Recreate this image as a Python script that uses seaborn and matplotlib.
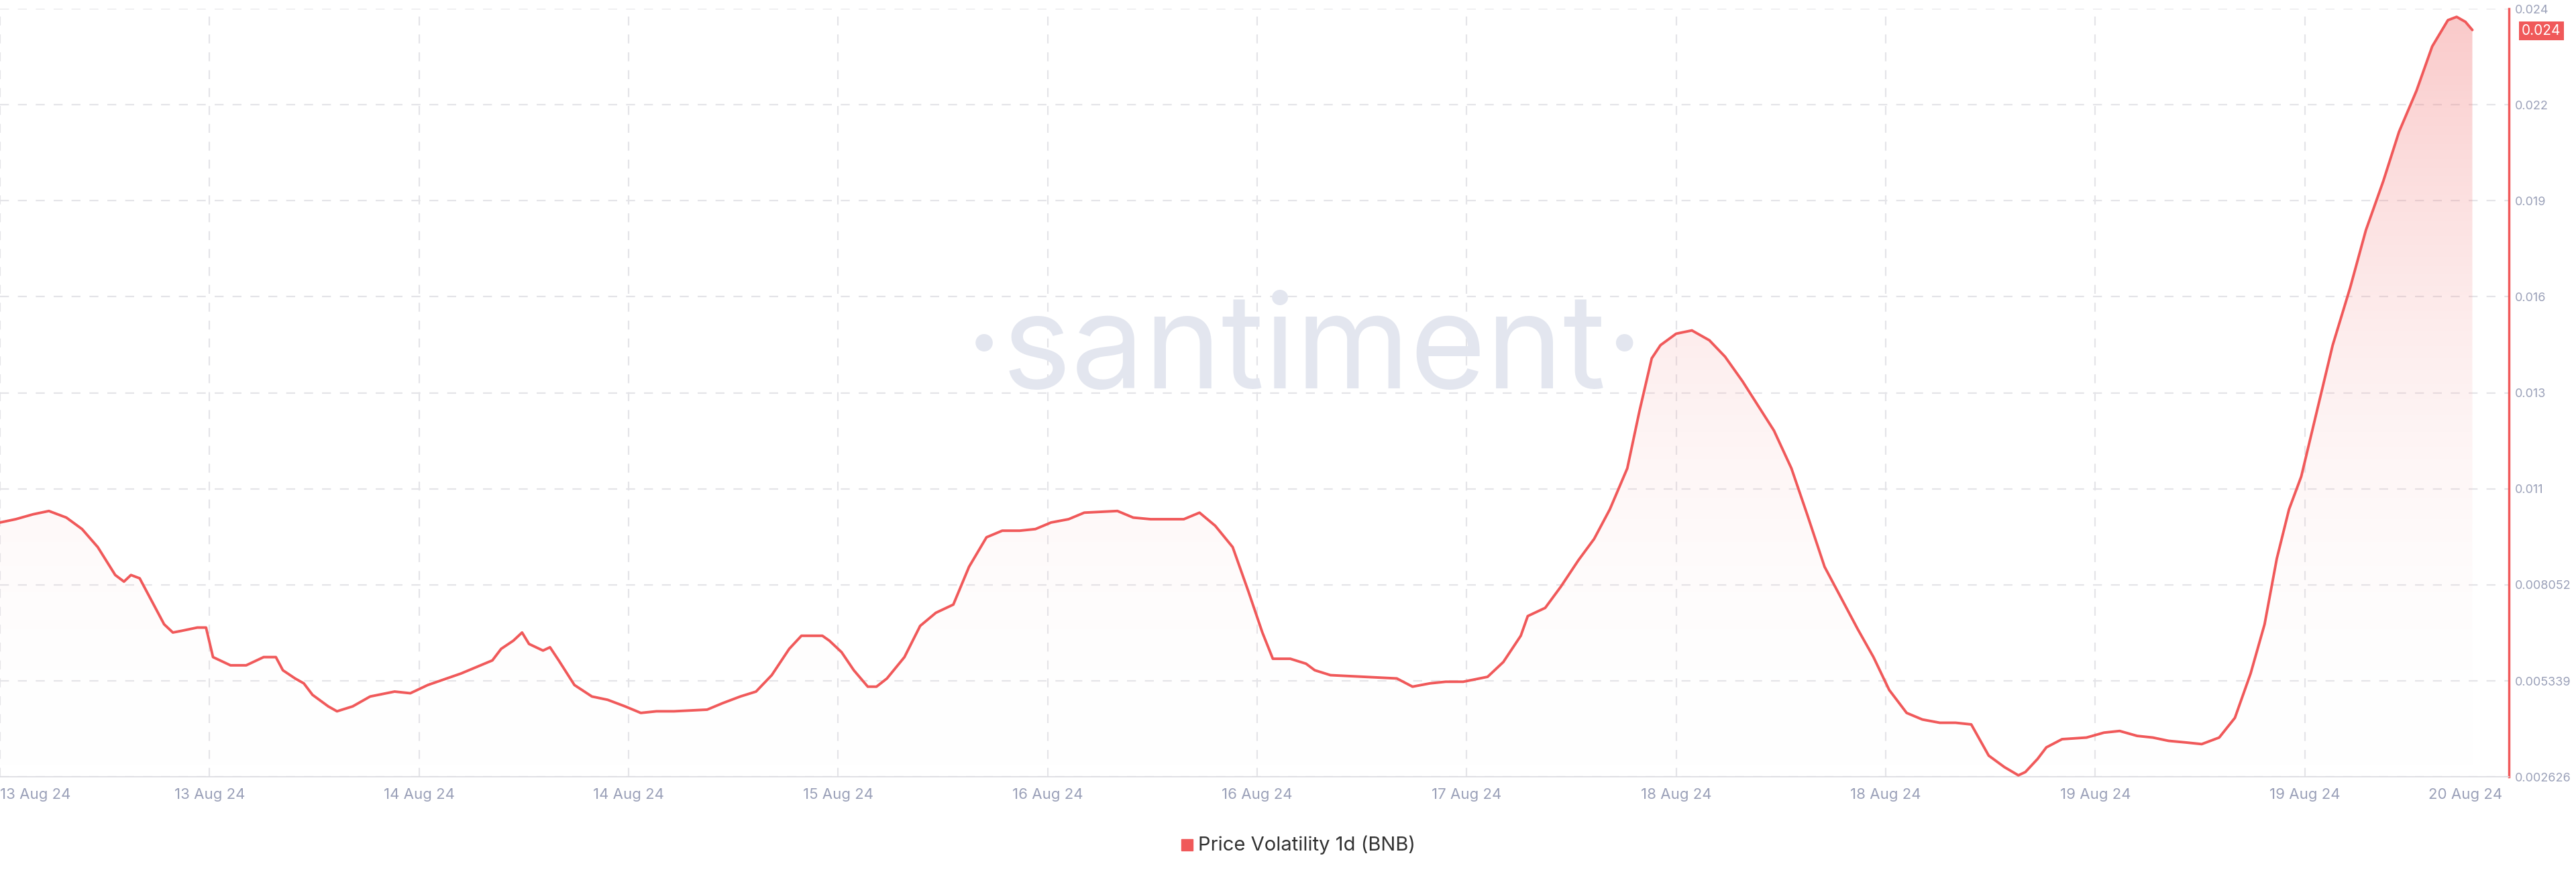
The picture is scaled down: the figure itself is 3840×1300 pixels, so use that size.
import numpy as np
import pandas as pd
import matplotlib
matplotlib.use("Agg")
import matplotlib.pyplot as plt
import seaborn as sns
from matplotlib.patches import Rectangle

hours = [0,0.9,1.9,2.8,3.8,4.7,5.6,6.6,7.1,7.5,8.0,8.5,9.4,9.9,10.4,11.3,11.8,12.2,13.2,14.1,15.1,15.8,16.2,16.9,17.4,17.9,18.8,19.3,20.2,21.2,22.6,23.5,24.5,26.4,28.2,28.7,29.4,29.9,30.3,31.1,31.5,32.0,32.9,33.9,34.8,35.8,36.7,37.6,38.6,40.5,41.4,42.4,43.3,44.2,45.2,45.9,47.1,47.5,48.2,48.9,49.7,50.2,50.8,51.8,52.7,53.6,54.6,55.5,56.5,57.4,58.4,59.3,60.2,61.2,62.1,64.0,64.9,65.9,66.8,67.8,68.7,69.6,70.6,71.5,72.3,72.9,73.9,74.8,75.3,76.2,78.1,80.0,80.9,81.9,82.8,83.8,85.2,86.1,87.1,87.5,88.5,89.4,90.4,91.3,92.2,93.2,93.9,94.6,95.1,96.0,96.9,97.9,98.8,99.8,100.7,101.6,102.6,103.5,104.5,105.4,106.4,107.3,108.2,109.2,110.1,111.1,112.0,112.9,113.9,114.8,115.6,116.0,116.7,117.2,118.1,119.5,120.5,121.4,122.4,123.3,124.2,125.2,126.1,127.1,128.0,128.9,129.7,130.4,131.1,131.8,132.7,133.6,134.6,135.5,136.5,137.4,138.4,139.3,140.2,140.7,141.2,141.6]
vol_milli = [9.815,9.908,10.047,10.140,9.954,9.629,9.119,8.331,8.145,8.331,8.238,7.774,6.939,6.707,6.754,6.847,6.847,6.012,5.780,5.780,6.012,6.012,5.641,5.409,5.270,4.945,4.620,4.481,4.620,4.899,5.038,4.991,5.223,5.548,5.919,6.244,6.476,6.707,6.383,6.197,6.290,5.919,5.223,4.899,4.806,4.620,4.435,4.481,4.481,4.528,4.713,4.899,5.038,5.502,6.244,6.615,6.615,6.476,6.151,5.641,5.177,5.177,5.409,6.012,6.893,7.264,7.496,8.563,9.397,9.583,9.583,9.629,9.815,9.908,10.093,10.140,9.954,9.908,9.908,9.908,10.093,9.722,9.119,7.867,6.707,5.965,5.965,5.826,5.641,5.502,5.455,5.409,5.177,5.270,5.316,5.316,5.455,5.873,6.615,7.171,7.403,8.006,8.748,9.351,10.186,11.345,12.969,14.453,14.824,15.149,15.241,14.963,14.499,13.804,13.108,12.412,11.345,10.047,8.563,7.728,6.800,6.012,5.084,4.435,4.249,4.157,4.157,4.110,3.229,2.904,2.672,2.765,3.136,3.461,3.693,3.739,3.878,3.925,3.786,3.739,3.646,3.600,3.554,3.739,4.296,5.548,6.939,8.795,10.186,11.114,12.969,14.824,16.447,18.070,19.462,20.853,22.013,23.265,24.007,24.100,23.961,23.729]
tick_hours = [0,12,24,36,48,60,72,84,96,108,120,132,141.2]
tick_labels = ["13 Aug 24","13 Aug 24","14 Aug 24","14 Aug 24","15 Aug 24","16 Aug 24","16 Aug 24","17 Aug 24","18 Aug 24","18 Aug 24","19 Aug 24","19 Aug 24","20 Aug 24"]
y_ticks = [0.002626,0.005339,0.008052,0.010765,0.013478,0.016191,0.018904,0.021617,0.02433]
y_labels = ["0.002626","0.005339","0.008052","0.011","0.013","0.016","0.019","0.022","0.024"]

df = pd.DataFrame({"h": hours, "v": np.array(vol_milli) / 1000})

sns.set_theme(style="white")
plt.rcParams['font.family'] = ['Inter', 'DejaVu Sans']
RED = "#f0595a"
GRAY = "#9aa0b8"

fig = plt.figure(figsize=(38.4, 13), dpi=100)
ax = fig.add_axes([0.0, 0.109, 0.974, 0.881])
ymin, ymax = 0.002626, 0.02433
xmax = 143.7
ax.set_xlim(0, xmax)
ax.set_ylim(ymin, ymax)

grad = np.linspace(0, 1, 256).reshape(-1, 1)
cmap = matplotlib.colors.LinearSegmentedColormap.from_list(
    "g", [(1, 1, 1, 0), (0.94, 0.35, 0.35, 0.32)])
im = ax.imshow(grad, extent=[0, df.h.max(), ymin, df.v.max()], origin="lower",
               aspect="auto", cmap=cmap, zorder=1)
poly = ax.fill_between(df.h, df.v, ymin, color="none")
clip = matplotlib.path.Path.make_compound_path(*poly.get_paths())
im.set_clip_path(clip, ax.transData)

sns.lineplot(data=df, x="h", y="v", ax=ax, color=RED, linewidth=2.8, zorder=3)

for t in tick_hours[:-1]:
    ax.axvline(t, color="#e4e4e8", ls=(0, (6, 6)), lw=1.6, zorder=0)
for yv in y_ticks:
    ax.axhline(yv, color="#e4e4e8", ls=(0, (6, 6)), lw=1.6, zorder=0)

ax.set_xticks(tick_hours)
ax.set_xticklabels(tick_labels, fontsize=16, color=GRAY)
labs = ax.get_xticklabels()
labs[0].set_ha("left")
ax.tick_params(axis="x", length=0, pad=12)
ax.yaxis.tick_right()
ax.set_yticks(y_ticks)
ax.set_yticklabels(y_labels, fontsize=13, color=GRAY)
ax.tick_params(axis="y", length=0, pad=6)
ax.set_xlabel(""); ax.set_ylabel("")
for s in ["top", "left"]:
    ax.spines[s].set_visible(False)
ax.spines["bottom"].set_color("#dcdce2")
ax.spines["right"].set_color(RED)
ax.spines["right"].set_linewidth(2.5)

ax.text(1.005, (0.02370 - ymin) / (ymax - ymin), "0.024", transform=ax.transAxes,
        fontsize=15, color="white", va="center", ha="left",
        bbox=dict(boxstyle="square,pad=0.2", fc=RED, ec="none"))

ax.text(0.52, 0.55, "·santiment·", transform=ax.transAxes, fontsize=140,
        color="#e3e6ef", ha="center", va="center", zorder=0.5)

fig.patches.append(Rectangle((0.4585, 0.025), 0.0045, 0.013, transform=fig.transFigure,
                             color=RED))
fig.text(0.465, 0.031, "Price Volatility 1d (BNB)", fontsize=21, color="#333333",
         va="center", ha="left")

fig.savefig("out.png", dpi=100, facecolor="white")
